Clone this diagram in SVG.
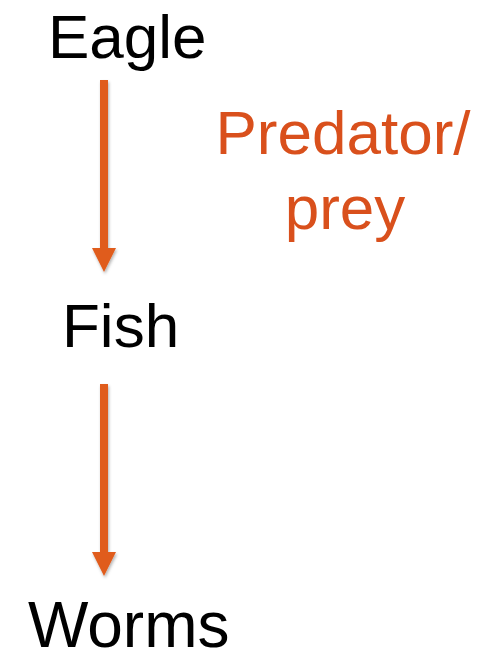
<svg xmlns="http://www.w3.org/2000/svg" width="489" height="652" viewBox="0 0 489 652">
  <style>
    .node { font-family: "Liberation Sans", Arial, sans-serif; fill: #000000; }
    .label { font-family: "Liberation Sans", Arial, sans-serif; fill: #D9501C; font-size: 62px; text-anchor: middle; }
    .shaft { stroke: #E05C1E; stroke-width: 8; fill: none; }
    .head { fill: #E05C1E; }
  </style>
  <defs>
    <filter id="shadow" x="-50%" y="-10%" width="200%" height="120%">
      <feDropShadow dx="1" dy="2" stdDeviation="1.5" flood-color="#000000" flood-opacity="0.3"/>
    </filter>
  </defs>
  <rect width="489" height="652" fill="#FFFFFF"/>
  <g id="connectors" filter="url(#shadow)">
    <g id="arrow-eagle-fish">
      <line class="shaft" x1="104" y1="80" x2="104" y2="250"/>
      <polygon class="head" points="92,248 116,248 104,272"/>
    </g>
    <g id="arrow-fish-worms">
      <line class="shaft" x1="104" y1="384" x2="104" y2="554"/>
      <polygon class="head" points="92,552 116,552 104,576"/>
    </g>
  </g>
  <g id="node-eagle">
    <text class="node" x="48" y="58" font-size="62">Eagle</text>
  </g>
  <g id="node-fish">
    <text class="node" x="62" y="347" font-size="62">Fish</text>
  </g>
  <g id="node-worms">
    <text class="node" x="28" y="647" font-size="64">Worms</text>
  </g>
  <g id="label-predator-prey">
    <text class="label" x="343" y="154">Predator/</text>
    <text class="label" x="345" y="229">prey</text>
  </g>
</svg>
